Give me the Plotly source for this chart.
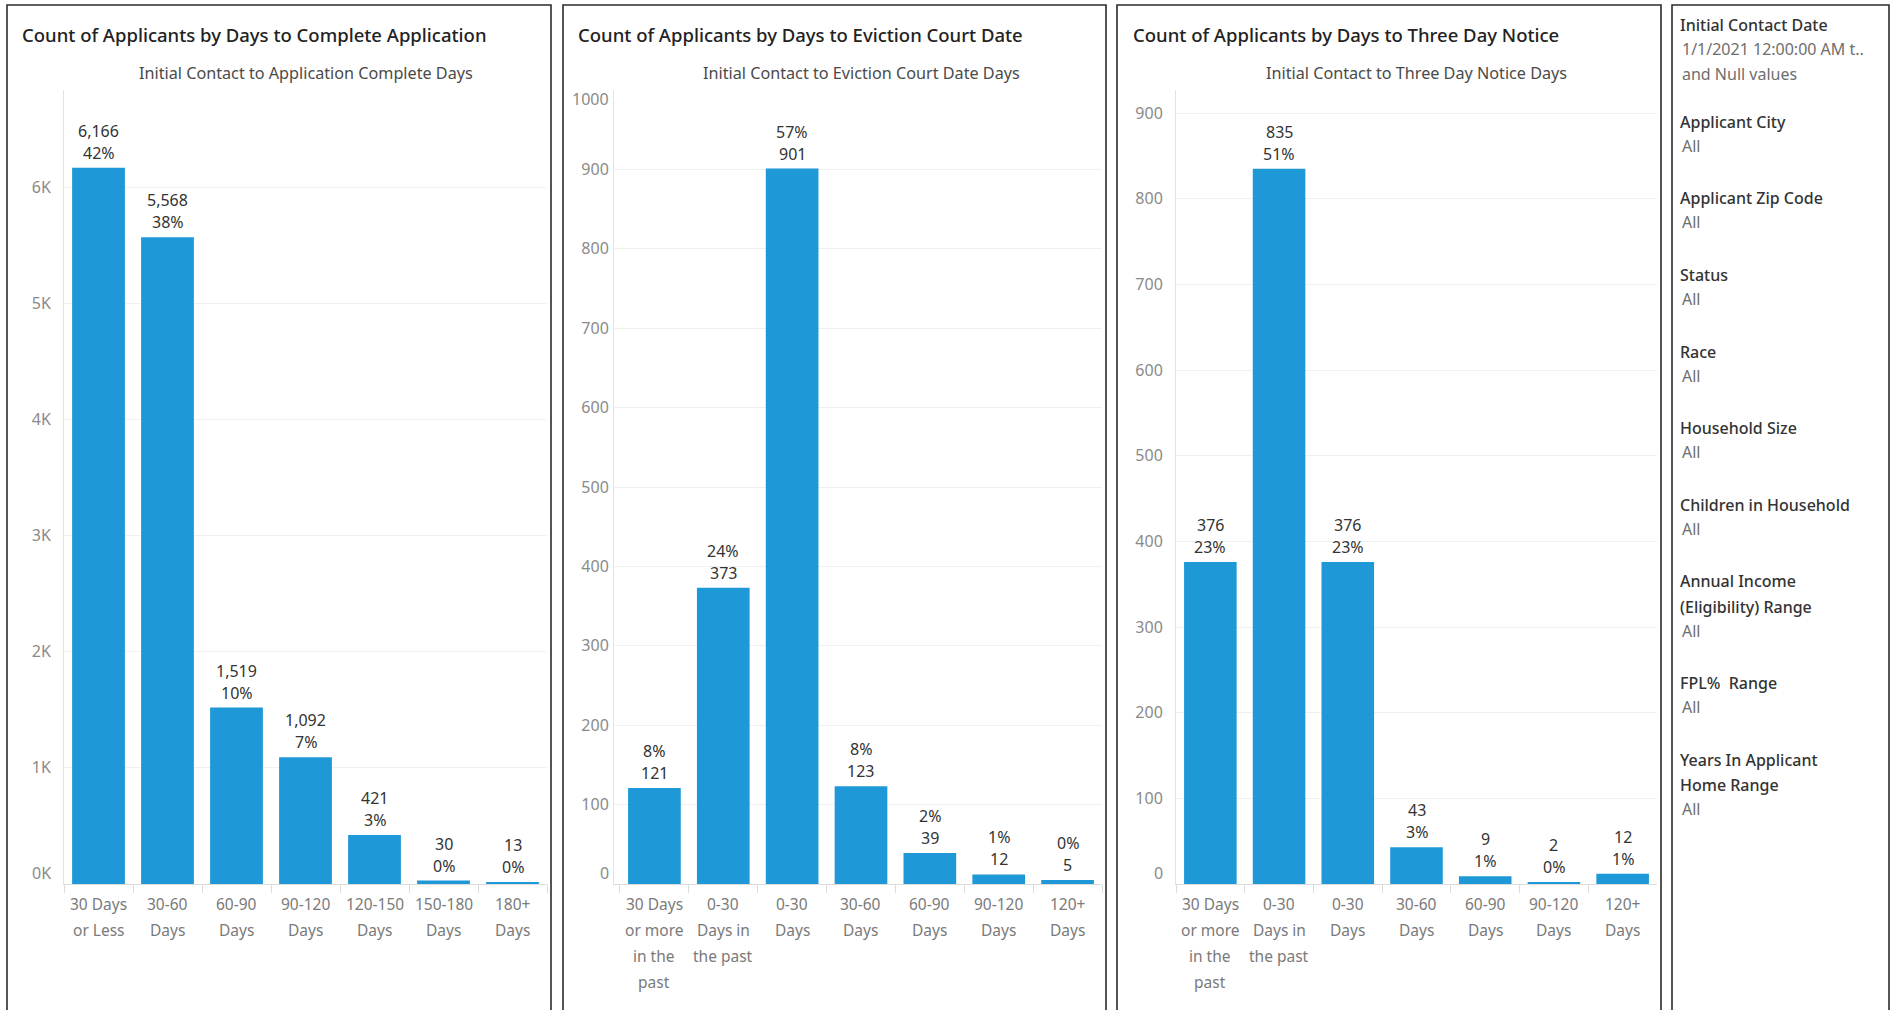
import plotly.graph_objects as go

# ---------------- data ----------------
cats_complete = ["30 Days\nor Less", "30-60\nDays", "60-90\nDays", "90-120\nDays",
                 "120-150\nDays", "150-180\nDays", "180+\nDays"]
vals_complete = [6166, 5568, 1519, 1092, 421, 30, 13]
pct_complete = ["42%", "38%", "10%", "7%", "3%", "0%", "0%"]

cats_court = ["30 Days\nor more\nin the\npast", "0-30\nDays in\nthe past", "0-30\nDays",
              "30-60\nDays", "60-90\nDays", "90-120\nDays", "120+\nDays"]
vals_court = [121, 373, 901, 123, 39, 12, 5]
pct_court = ["8%", "24%", "57%", "8%", "2%", "1%", "0%"]

cats_notice = ["30 Days\nor more\nin the\npast", "0-30\nDays in\nthe past", "0-30\nDays",
               "30-60\nDays", "60-90\nDays", "90-120\nDays", "120+\nDays"]
vals_notice = [376, 835, 376, 43, 9, 2, 12]
pct_notice = ["23%", "51%", "23%", "3%", "1%", "0%", "1%"]

titles = ["Count of Applicants by Days to Complete Application",
          "Count of Applicants by Days to Eviction Court Date",
          "Count of Applicants by Days to Three Day Notice"]
subtitles = ["Initial Contact to Application Complete Days",
             "Initial Contact to Eviction Court Date Days",
             "Initial Contact to Three Day Notice Days"]

y1_ticks = [0, 1000, 2000, 3000, 4000, 5000, 6000]
y1_text = ["0K", "1K", "2K", "3K", "4K", "5K", "6K"]
y2_ticks = [0, 100, 200, 300, 400, 500, 600, 700, 800, 900, 1000]
y3_ticks = [0, 100, 200, 300, 400, 500, 600, 700, 800, 900]

filters = [
    ("Initial Contact Date", ["1/1/2021 12:00:00 AM t..", "and Null values"]),
    ("Applicant City", ["All"]),
    ("Applicant Zip Code", ["All"]),
    ("Status", ["All"]),
    ("Race", ["All"]),
    ("Household Size", ["All"]),
    ("Children in Household", ["All"]),
    ("Annual Income\n(Eligibility) Range", ["All"]),
    ("FPL%  Range", ["All"]),
    ("Years In Applicant\nHome Range", ["All"]),
]

# ---------------- layout helpers ----------------
W, H = 1891, 1010
FONT = "Noto Sans"
BLUE = "#1E98D6"
TICK_SIZE = 16


def px(x):
    return x / W


def py(y):
    return 1 - y / H


Y_DOM = [py(884), py(90)]

fig = go.Figure()

charts = [
    dict(cats=cats_complete, vals=vals_complete, pct=pct_complete, order="count_first",
         xa="x", ya="y", dom=[px(64), px(547)], xr=[-0.5, 6.5], yr=[0, 6835],
         tv=y1_ticks, tt=y1_text, standoff=9, panel=(7, 551), title_x=20),
    dict(cats=cats_court, vals=vals_court, pct=pct_court, order="pct_first",
         xa="x2", ya="y2", dom=[px(614), px(1102)], xr=[-0.5 - 6 / 69, 6.5], yr=[0, 1000],
         tv=y2_ticks, tt=[str(v) for v in y2_ticks], standoff=1, panel=(563, 1106), title_x=576),
    dict(cats=cats_notice, vals=vals_notice, pct=pct_notice, order="count_first",
         xa="x3", ya="y3", dom=[px(1176), px(1657)], xr=[-0.5, 6.5], yr=[0, 927],
         tv=y3_ticks, tt=[str(v) for v in y3_ticks], standoff=9, panel=(1117, 1661), title_x=1131),
]

annotations = []
shapes = []

for i, c in enumerate(charts):
    fig.add_trace(go.Bar(x=c["cats"], y=c["vals"], xaxis=c["xa"], yaxis=c["ya"],
                         marker=dict(color=BLUE, line=dict(width=0)),
                         hoverinfo="skip", showlegend=False))
    sfx = "" if i == 0 else str(i + 1)
    # tick texts: blank the edge labels, redraw them nudged inside the pane
    tt = list(c["tt"])
    edge_idx = [0]
    if c["tv"][-1] == c["yr"][1]:
        edge_idx.append(len(tt) - 1)
    for k in edge_idx:
        shift = 11 if k == 0 else -9
        annotations.append(dict(text=tt[k], xref="paper", yref=c["ya"],
                                x=c["dom"][0], y=c["tv"][k], xanchor="right", yanchor="middle",
                                xshift=-(c["standoff"] + 2), yshift=shift, showarrow=False,
                                font=dict(family=FONT, size=TICK_SIZE, color="#8a8a8a")))
        tt[k] = ""
    fig.update_layout(**{
        "xaxis" + sfx: dict(domain=c["dom"], anchor=c["ya"], type="category",
                            range=c["xr"], showticklabels=False, tickson="boundaries",
                            ticks="outside", ticklen=8, tickcolor="#dcdcdc", tickwidth=1,
                            showline=True, linecolor="#dcdcdc", linewidth=1,
                            showgrid=False, zeroline=False, fixedrange=True),
        "yaxis" + sfx: dict(domain=Y_DOM, anchor=c["xa"], range=c["yr"],
                            tickvals=c["tv"], ticktext=tt, ticks="",
                            ticklabelstandoff=c["standoff"],
                            tickfont=dict(family=FONT, size=TICK_SIZE, color="#8a8a8a"),
                            showgrid=True, gridcolor="#f0f0f0", gridwidth=1,
                            showline=True, linecolor="#e2e2e2", linewidth=1,
                            zeroline=False, fixedrange=True),
    })
    # data labels (two lines)
    for cat, v, p in zip(c["cats"], c["vals"], c["pct"]):
        count_txt = f"{v:,}"
        top, bottom = (count_txt, p) if c["order"] == "count_first" else (p, count_txt)
        for txt, ys in ((top, 37), (bottom, 15)):
            annotations.append(dict(text=txt, xref=c["xa"], yref=c["ya"], x=cat, y=v,
                                    yshift=ys, yanchor="middle", xanchor="center",
                                    showarrow=False,
                                    font=dict(family=FONT, size=16, color="#333333")))
    # category labels, one annotation per line
    for cat in c["cats"]:
        for j, line in enumerate(cat.split("\n")):
            annotations.append(dict(text=line, xref=c["xa"], yref="paper", x=cat,
                                    y=py(904 + 26 * j), yanchor="middle", xanchor="center",
                                    showarrow=False,
                                    font=dict(family=FONT, size=15.5, color="#7a7a7a")))
    # panel title + subtitle
    annotations.append(dict(text=titles[i], xref="paper", yref="paper",
                            x=px(c["title_x"]), y=py(34), xanchor="left", yanchor="middle",
                            showarrow=False,
                            font=dict(family=FONT, size=18.5, color="#222222", weight=500)))
    annotations.append(dict(text=subtitles[i], xref="paper", yref="paper",
                            x=(c["dom"][0] + c["dom"][1]) / 2 if i != 1 else px(861),
                            y=py(73), xanchor="center", yanchor="middle", showarrow=False,
                            font=dict(family=FONT, size=16.2, color="#4a4a4a")))
    # panel border (open at the bottom of the page)
    x0, x1 = c["panel"]
    shapes.append(dict(type="rect", xref="paper", yref="paper",
                       x0=px(x0), x1=px(x1), y0=py(1030), y1=py(5),
                       line=dict(color="#2b2b2b", width=1.6), fillcolor="rgba(0,0,0,0)"))

# filter panel
shapes.append(dict(type="rect", xref="paper", yref="paper",
                   x0=px(1672), x1=px(1889), y0=py(1030), y1=py(5),
                   line=dict(color="#2b2b2b", width=1.6), fillcolor="rgba(0,0,0,0)"))
ycur = 25
for g, (name, vals) in enumerate(filters):
    for line in name.split("\n"):
        annotations.append(dict(text=line, xref="paper", yref="paper", x=px(1678), y=py(ycur),
                                xanchor="left", yanchor="middle", showarrow=False,
                                font=dict(family=FONT, size=16, color="#333333", weight=500)))
        ycur += 25.5
    ycur -= 1.5
    for line in vals:
        annotations.append(dict(text=line, xref="paper", yref="paper", x=px(1680), y=py(ycur),
                                xanchor="left", yanchor="middle", showarrow=False,
                                font=dict(family=FONT, size=16, color="#6e6e6e")))
        ycur += 25
    ycur += (48 if g == 0 else 52.5) - 25

fig.update_layout(width=W, height=H, margin=dict(l=0, r=0, t=0, b=0),
                  paper_bgcolor="white", plot_bgcolor="white",
                  bargap=0.235, showlegend=False,
                  annotations=annotations, shapes=shapes,
                  font=dict(family=FONT))

fig.write_html("out.html", config={"displayModeBar": False},
               post_script="document.body.style.margin='0';document.body.style.overflow='hidden';")
